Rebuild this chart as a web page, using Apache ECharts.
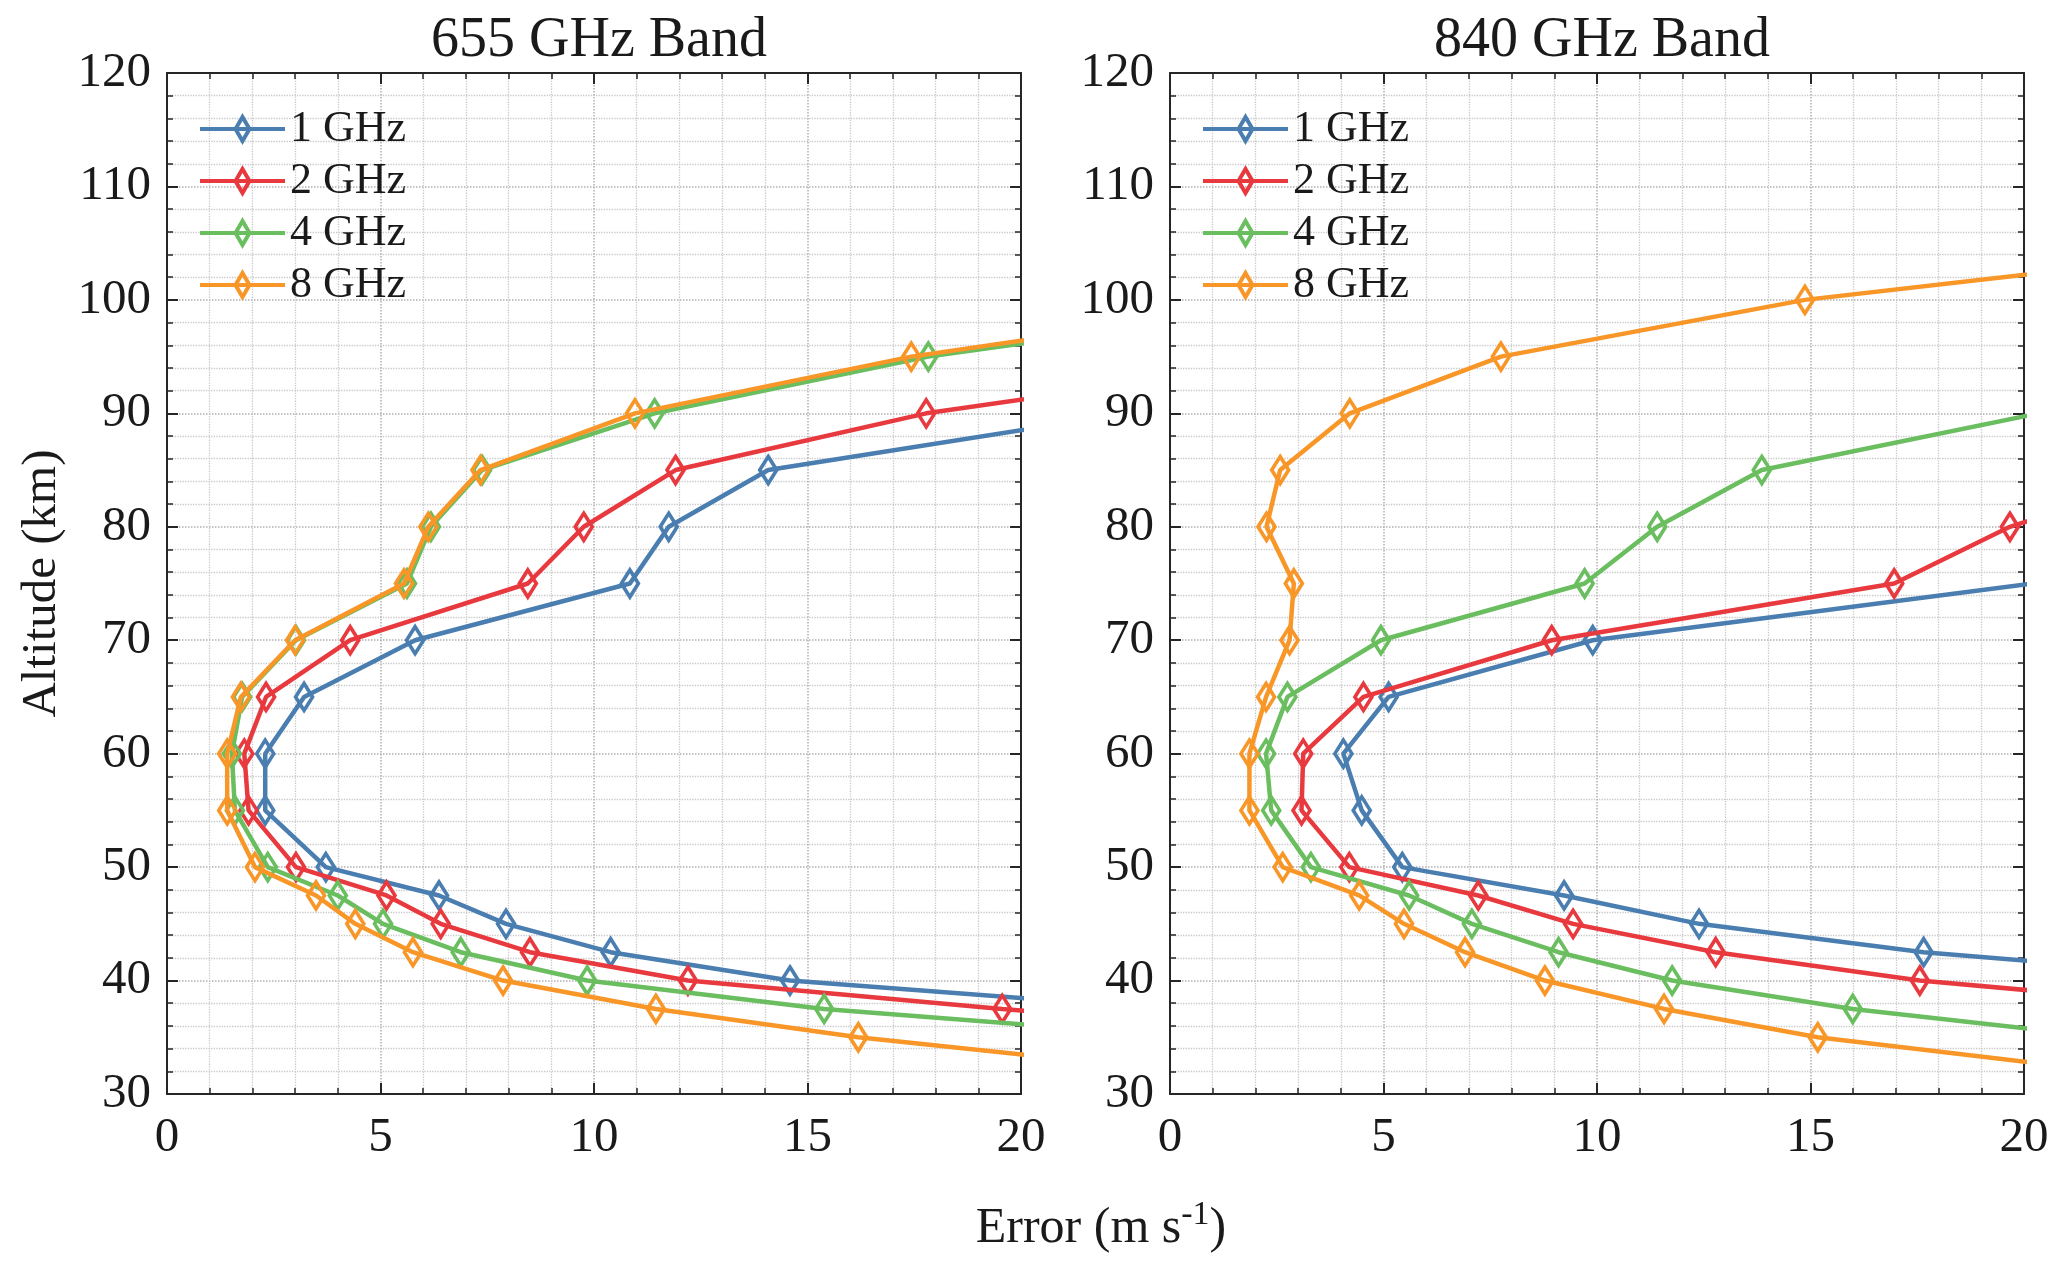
<!DOCTYPE html>
<html><head><meta charset="utf-8">
<script src="https://cdn.jsdelivr.net/npm/echarts@6/dist/echarts.min.js"></script>
<style>html,body{margin:0;padding:0;background:#fff}#c{width:2067px;height:1270px}</style>
</head><body><div id="c"></div>
<script>
// ---------- data ----------
const altitudes = [32.5, 35, 37.5, 40, 42.5, 45, 47.5, 50, 55, 60, 65, 70, 75, 80, 85, 90, 95, 100, 105];
const seriesNames = ['1 GHz', '2 GHz', '4 GHz', '8 GHz'];
const panelTitles = ['655 GHz Band', '840 GHz Band'];
const xTickValues = [0, 5, 10, 15, 20];
const yTickValues = [30, 40, 50, 60, 70, 80, 90, 100, 110, 120];

// error (m/s) at each altitude; null = no point
const band655_1GHz = [null, null, 23.4, 14.59, 10.39, 7.94, 6.37, 3.72, 2.30, 2.30, 3.21, 5.81, 10.84, 11.75, 14.08, 22.5, null, null, null];
const band655_2GHz = [null, 27.0, 19.56, 12.2, 8.50, 6.41, 5.14, 3.02, 1.91, 1.81, 2.32, 4.29, 8.45, 9.76, 11.91, 17.78, 27.0, null, null];
const band655_4GHz = [null, 23.9, 15.39, 9.84, 6.88, 5.06, 4.00, 2.36, 1.59, 1.52, 1.76, 3.02, 5.62, 6.18, 7.38, 11.42, 17.83, 27.3, null];
const band655_8GHz = [22.5, 16.19, 11.45, 7.87, 5.76, 4.41, 3.49, 2.06, 1.41, 1.41, 1.73, 3.00, 5.55, 6.12, 7.34, 10.96, 17.43, 26.6, null];

const band840_1GHz = [null, null, null, 25.6, 17.65, 12.39, 9.23, 5.44, 4.49, 4.06, 5.12, 9.90, 20.2, null, null, null, null, null, null];
const band840_2GHz = [null, null, 25.0, 17.56, 12.78, 9.44, 7.22, 4.20, 3.08, 3.12, 4.53, 8.94, 16.96, 19.67, 23.8, null, null, null, null];
const band840_4GHz = [null, 21.9, 15.99, 11.76, 9.10, 7.07, 5.60, 3.30, 2.37, 2.25, 2.75, 4.94, 9.71, 11.41, 13.86, 20.35, null, null, null];
const band840_8GHz = [20.79, 15.17, 11.57, 8.78, 6.91, 5.48, 4.43, 2.64, 1.86, 1.86, 2.25, 2.80, 2.90, 2.26, 2.58, 4.21, 7.75, 14.87, 26.5];

const colors = ['#4a7eb0', '#e8393f', '#6abe5f', '#f89628'];

// ---------- build ----------
const FONT = '"Liberation Serif","Times New Roman",serif';
const TXT = '#1a1a1a';
const AX = '#262626';
const panels = [
  [band655_1GHz, band655_2GHz, band655_4GHz, band655_8GHz],
  [band840_1GHz, band840_2GHz, band840_4GHz, band840_8GHz]
];
const gridLefts = [167, 1170];
const gridW = 854;
// legend icon: a line with a tall hollow diamond in its middle
const legendIcon = 'path://M0,11L85,11M42.5,0L49.5,11L42.5,22L35.5,11Z';

function toPairs(vals) {
  const out = [];
  vals.forEach((v, i) => { if (v !== null) out.push([v, altitudes[i]]); });
  return out;
}

const grids = [], xAxes = [], yAxes = [], series = [], legends = [], titles = [];

panels.forEach((panel, p) => {
  grids.push({ left: gridLefts[p], width: gridW, top: 73, height: 1021, containLabel: false });
  const baseX = {
    gridIndex: p, type: 'value', min: xTickValues[0], max: xTickValues[xTickValues.length - 1], interval: 5,
    axisLine: { show: true, onZero: false, lineStyle: { color: AX, width: 2 } },
    axisTick: { show: true, inside: true, length: 11, lineStyle: { color: AX, width: 2 } },
    minorTick: { show: true, splitNumber: 5, length: 6, lineStyle: { color: AX, width: 1.5 } }
  };
  xAxes.push(Object.assign({}, baseX, {
    position: 'bottom',
    axisLabel: { show: true, margin: 20, fontSize: 49, fontFamily: FONT, color: TXT },
    splitLine: { show: true, lineStyle: { type: 'dotted', color: '#b0b0b0', width: 1.5 } },
    minorSplitLine: { show: true, lineStyle: { type: 'dotted', color: '#c8c8c8', width: 1.3 } }
  }));
  xAxes.push(Object.assign({}, baseX, {
    position: 'top', axisLabel: { show: false }, splitLine: { show: false }, minorSplitLine: { show: false }
  }));
  const baseY = {
    gridIndex: p, type: 'value', min: yTickValues[0], max: yTickValues[yTickValues.length - 1], interval: 10,
    axisLine: { show: true, onZero: false, lineStyle: { color: AX, width: 2 } },
    axisTick: { show: true, inside: true, length: 11, lineStyle: { color: AX, width: 2 } },
    minorTick: { show: true, splitNumber: 5, length: 6, lineStyle: { color: AX, width: 1.5 } }
  };
  yAxes.push(Object.assign({}, baseY, {
    position: 'left',
    name: p === 0 ? 'Altitude (km)' : '',
    nameLocation: 'middle', nameGap: 100,
    nameTextStyle: { fontSize: 49, fontFamily: FONT, color: TXT },
    axisLabel: { show: true, margin: 16, fontSize: 49, fontFamily: FONT, color: TXT },
    splitLine: { show: true, lineStyle: { type: 'dotted', color: '#b0b0b0', width: 1.5 } },
    minorSplitLine: { show: true, lineStyle: { type: 'dotted', color: '#c8c8c8', width: 1.3 } }
  }));
  yAxes.push(Object.assign({}, baseY, {
    position: 'right', axisLabel: { show: false }, splitLine: { show: false }, minorSplitLine: { show: false }
  }));

  panel.forEach((vals, s) => {
    series.push({
      name: seriesNames[s], type: 'line',
      xAxisIndex: p * 2, yAxisIndex: p * 2,
      data: toPairs(vals),
      clip: true,
      symbol: 'diamond', symbolSize: [17, 27],
      lineStyle: { color: colors[s], width: 4.5 },
      itemStyle: { color: 'transparent', borderColor: colors[s], borderWidth: 3.8 },
      emphasis: { disabled: true },
      z: 2 + s
    });
  });

  legends.push({
    orient: 'vertical', left: gridLefts[p] + 31, top: 103, padding: 0,
    itemWidth: 85, itemHeight: 24, itemGap: 0,
    icon: legendIcon, symbolKeepAspect: false,
    itemStyle: { color: 'transparent', borderColor: 'inherit', borderWidth: 4 },
    selectedMode: false,
    textStyle: { fontSize: 44, fontFamily: FONT, color: TXT, lineHeight: 52, padding: 0 },
    data: seriesNames.slice()
  });

  titles.push({
    text: panelTitles[p], left: gridLefts[p] + gridW / 2, top: 8, textAlign: 'center',
    textStyle: { fontSize: 56, fontWeight: 'normal', fontFamily: FONT, color: TXT }
  });
});

titles.push({
  text: '{a|Error (m s}{b|-1}{a|)}',
  left: 1096, top: 1193, textAlign: 'center',
  textStyle: {
    fontWeight: 'normal',
    rich: {
      a: { fontSize: 50, fontWeight: 'normal', fontFamily: FONT, color: TXT, lineHeight: 62 },
      b: { fontSize: 34, fontWeight: 'normal', fontFamily: FONT, color: TXT, verticalAlign: 'top', lineHeight: 62, padding: [0, 0, 22, 0] }
    }
  }
});

const chart = echarts.init(document.getElementById('c'), null, { renderer: 'canvas' });
chart.setOption({
  animation: false,
  backgroundColor: '#fff',
  title: titles,
  legend: legends,
  grid: grids,
  xAxis: xAxes,
  yAxis: yAxes,
  series: series
});
</script></body></html>
